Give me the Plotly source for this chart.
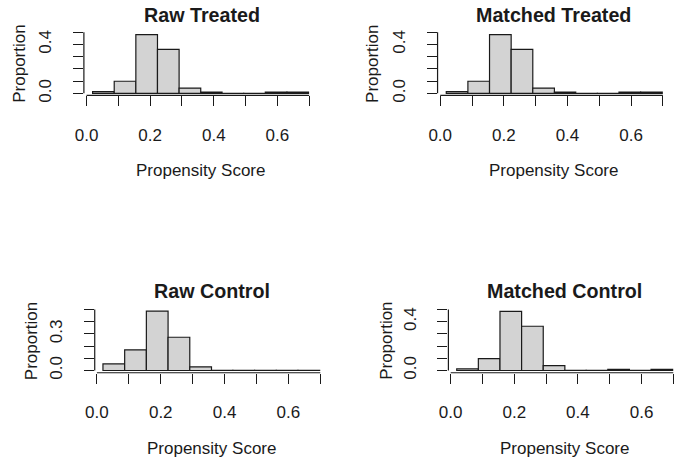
import plotly.graph_objects as go

W, H = 675, 463

# ---- data ----
bin_edges = [0.019, 0.087, 0.155, 0.223, 0.291, 0.359, 0.426, 0.494, 0.562, 0.630, 0.698]
raw_treated = [0.014, 0.099, 0.479, 0.359, 0.043, 0.010, 0.001, 0.001, 0.010, 0.010]
matched_treated = [0.014, 0.099, 0.479, 0.359, 0.043, 0.010, 0.001, 0.001, 0.010, 0.010]
raw_control = [0.054, 0.170, 0.487, 0.273, 0.030, 0.001, 0.001, 0.001, 0.001, 0.001]
matched_control = [0.014, 0.098, 0.485, 0.363, 0.040, 0.001, 0.001, 0.010, 0.001, 0.010]

panel_titles = ["Raw Treated", "Matched Treated", "Raw Control", "Matched Control"]
x_title = "Propensity Score"
y_title = "Proportion"
x_tick_vals = [0.0, 0.1, 0.2, 0.3, 0.4, 0.5, 0.6, 0.7]
x_tick_text = ["0.0", "", "0.2", "", "0.4", "", "0.6", ""]
y_tick_vals = [0.0, 0.1, 0.2, 0.3, 0.4, 0.5]
y_tick_text_a = ["0.0", "", "", "", "0.4", ""]
y_tick_text_b = ["0.0", "", "", "0.3", "", ""]

series = [raw_treated, matched_treated, raw_control, matched_control]
y_tick_texts = [y_tick_text_a, y_tick_text_a, y_tick_text_b, y_tick_text_a]

# ---- layout geometry (pixels) ----
# (yaxis_px, x0_px, x07_px, xaxis_px, y0_px, y05_px)
geom = [
    (75.0, 77.7, 303.7, 96.0, 94.0, 31.7),
    (434.0, 436.7, 662.7, 96.0, 94.0, 31.7),
    (86.0, 88.2, 315.0, 378.3, 376.0, 314.0),
    (445.0, 447.3, 673.3, 378.3, 376.0, 314.0),
]
title_pos = [(195, 14), (552, 14), (205, 295.5), (563, 295.5)]
xtitle_pos = [(193, 172), (552, 172), (205, 455), (563, 455)]
ytitle_pos = [(10, 64), (368.5, 64), (21.5, 346), (381.5, 346)]

FONT = "Liberation Sans, Arial, sans-serif"
INK = "#1a1a1a"

centers = [(bin_edges[i] + bin_edges[i + 1]) / 2 for i in range(len(bin_edges) - 1)]
widths = [bin_edges[i + 1] - bin_edges[i] for i in range(len(bin_edges) - 1)]

fig = go.Figure()
layout = dict(
    width=W, height=H,
    margin=dict(l=0, r=0, t=0, b=0),
    paper_bgcolor="white", plot_bgcolor="white",
    showlegend=False,
    font=dict(family=FONT, size=17, color=INK),
    bargap=0.1,
)
shapes = []
annotations = []

for i in range(4):
    k = "" if i == 0 else str(i + 1)
    yax_px, x0_px, x07_px, xax_px, y0_px, y05_px = geom[i]
    sx = (x07_px - x0_px) / 0.7
    sy = (y0_px - y05_px) / 0.5
    xr = [-(x0_px - yax_px) / sx, 0.7 + 0.5 / sx]
    yr = [-(xax_px - y0_px) / sy, 0.5 + 0.5 / sy]
    xdom = [yax_px / W, (x07_px + 0.5) / W]
    ydom = [(H - xax_px) / H, (H - y05_px + 0.5) / H]

    fig.add_trace(go.Bar(
        x=centers, y=series[i], width=widths,
        xaxis="x" + k, yaxis="y" + k,
        marker=dict(color="#D3D3D3", line=dict(color=INK, width=1.2)),
        hoverinfo="skip",
    ))
    layout["xaxis" + k] = dict(
        domain=xdom, range=xr, anchor="y" + k,
        tickmode="array", tickvals=x_tick_vals, ticktext=x_tick_text,
        ticks="outside", ticklen=10, tickwidth=1.2, tickcolor=INK,
        showgrid=False, zeroline=False, showline=False,
        tickfont=dict(family=FONT, size=17, color=INK),
        ticklabelstandoff=14,
    )
    layout["yaxis" + k] = dict(
        domain=ydom, range=yr, anchor="x" + k,
        tickmode="array", tickvals=y_tick_vals, ticktext=y_tick_texts[i],
        ticks="outside", ticklen=10, tickwidth=1.2, tickcolor=INK,
        showgrid=False, zeroline=False, showline=False,
        tickangle=-90,
        tickfont=dict(family=FONT, size=17, color=INK),
        ticklabelstandoff=15,
    )
    # axis lines (R style: spanning first to last tick)
    shapes.append(dict(type="line", xref="x" + k, yref="y" + k + " domain",
                       x0=0.0, x1=0.7, y0=0, y1=0,
                       line=dict(color=INK, width=1.2)))
    shapes.append(dict(type="line", xref="x" + k + " domain", yref="y" + k,
                       x0=0, x1=0, y0=0.0, y1=0.5,
                       line=dict(color=INK, width=1.2)))

    tx, ty = title_pos[i]
    annotations.append(dict(text="<b>" + panel_titles[i] + "</b>", x=tx / W, y=1 - ty / H,
                            xref="paper", yref="paper", xanchor="center", yanchor="middle",
                            showarrow=False, font=dict(family=FONT, size=19.7, color=INK)))
    ax_, ay_ = xtitle_pos[i]
    annotations.append(dict(text=x_title, x=ax_ / W, y=1 - ay_ / H,
                            xref="paper", yref="paper", xanchor="center", yanchor="middle",
                            showarrow=False, font=dict(family=FONT, size=17, color=INK)))
    bx, by = ytitle_pos[i]
    annotations.append(dict(text=y_title, x=bx / W, y=1 - by / H, textangle=-90,
                            xref="paper", yref="paper", xanchor="center", yanchor="middle",
                            showarrow=False, font=dict(family=FONT, size=17, color=INK)))

layout["shapes"] = shapes
layout["annotations"] = annotations
fig.update_layout(**layout)
fig.write_html("out.html")
